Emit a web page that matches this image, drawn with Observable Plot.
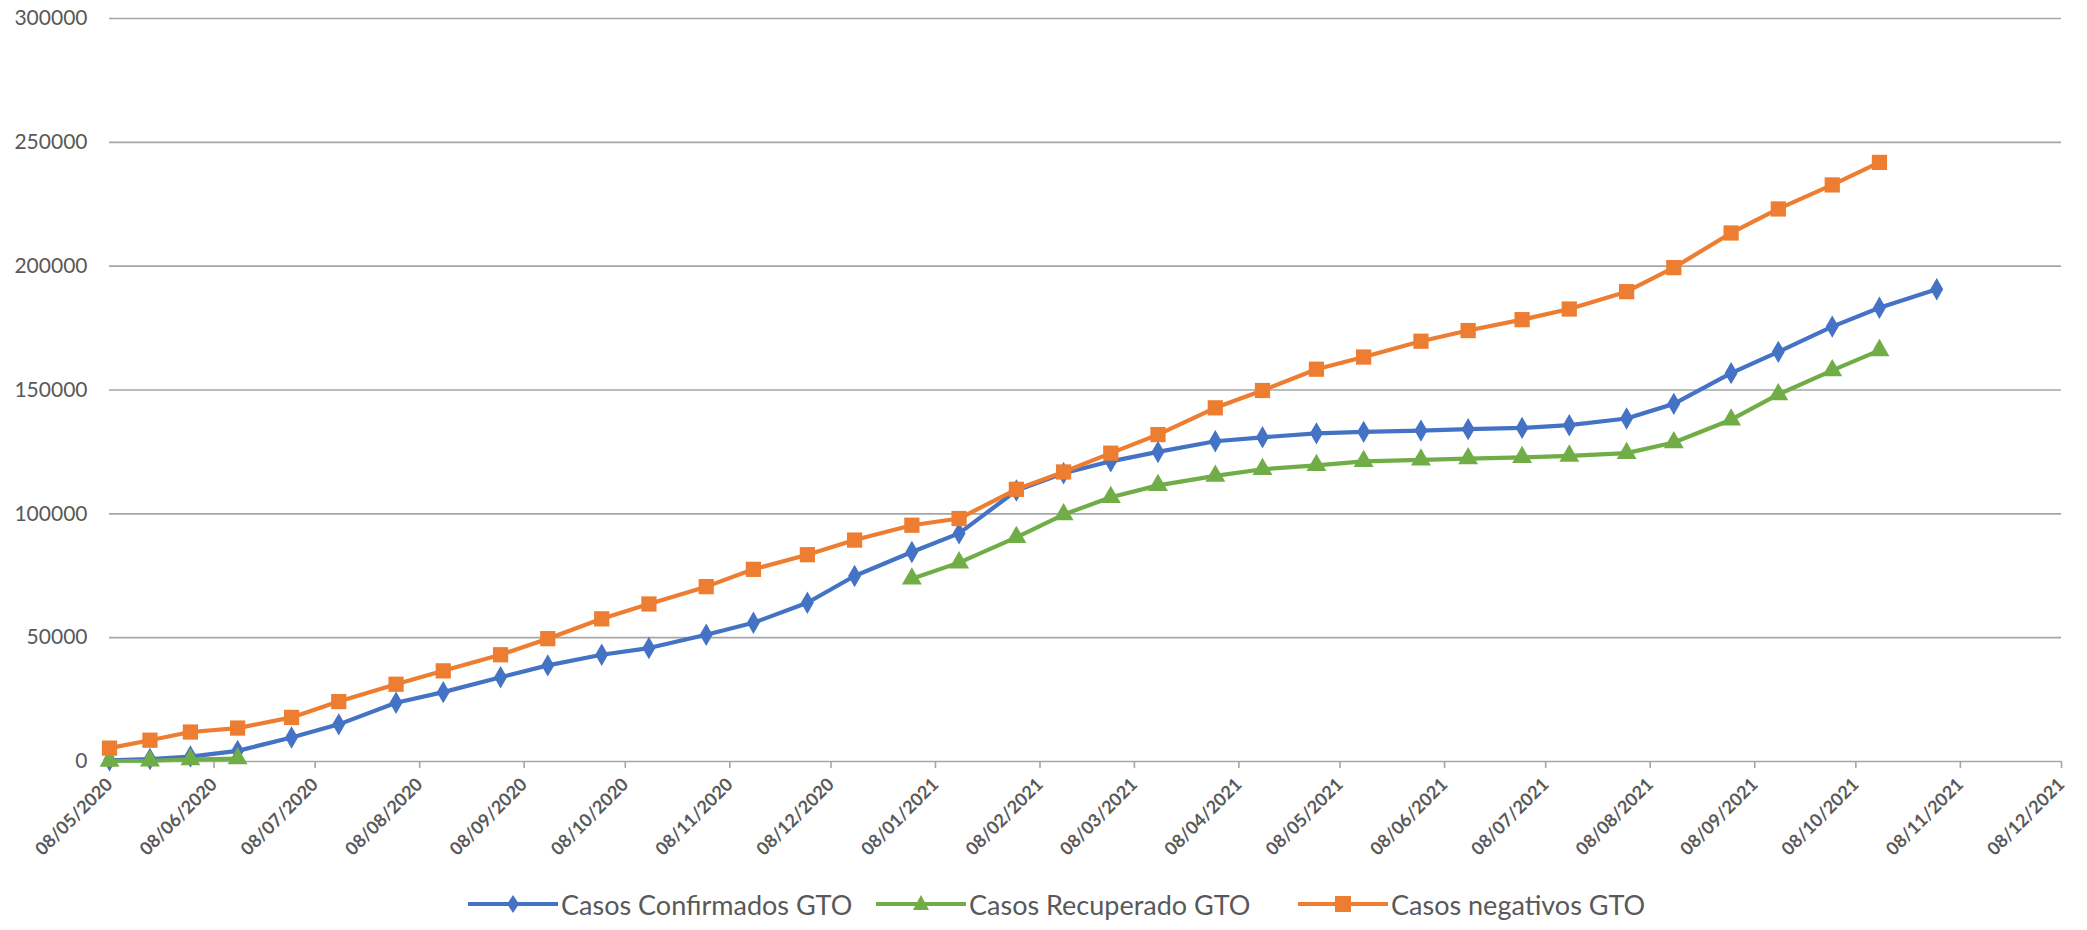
<!DOCTYPE html>
<html>
<head>
<meta charset="utf-8">
<script src="https://cdn.jsdelivr.net/npm/d3@7"></script>
<script src="https://cdn.jsdelivr.net/npm/@observablehq/plot@0.6"></script>
<style>
  html, body { margin: 0; padding: 0; background: #fff; }
  body { width: 2087px; height: 930px; position: relative; overflow: hidden; font-family: Lato, "Open Sans", sans-serif; }
  #chart svg { display: block; }
  #legend { position: absolute; left: 0; top: 878px; width: 2087px; height: 52px; }
  .item { position: absolute; top: 0; height: 52px; display: flex; align-items: center; font-size: 27px; color: #595959; white-space: nowrap; }
  .item svg { margin-right: 3px; }
</style>
</head>
<body>
<div id="chart"></div>
<div id="legend"></div>
<script>
// ---- data ----
const dates = [
  "2020-05-08","2020-05-20","2020-06-01","2020-06-15","2020-07-01","2020-07-15",
  "2020-08-01","2020-08-15","2020-09-01","2020-09-15","2020-10-01","2020-10-15",
  "2020-11-01","2020-11-15","2020-12-01","2020-12-15","2021-01-01","2021-01-15",
  "2021-02-01","2021-02-15","2021-03-01","2021-03-15","2021-04-01","2021-04-15",
  "2021-05-01","2021-05-15","2021-06-01","2021-06-15","2021-07-01","2021-07-15",
  "2021-08-01","2021-08-15","2021-09-01","2021-09-15","2021-10-01","2021-10-15",
  "2021-11-01"
];
const confirmados = [
  500, 1000, 2000, 4300, 9700, 15000,
  23700, 28000, 34000, 38800, 43100, 45800,
  51200, 56000, 64100, 74900, 84600, 92100,
  109400, 116400, 121200, 125000, 129300, 130900,
  132500, 133100, 133600, 134200, 134700, 135800,
  138500, 144400, 156800, 165400, 175600, 183200,
  190700
];
const recuperados = [
  200, 300, 800, 1200, null, null,
  null, null, null, null, null, null,
  null, null, null, null, 73800, 80300,
  90500, 99700, 106700, 111500, 115300, 118000,
  119600, 121200, 121800, 122300, 122800, 123400,
  124500, 128800, 138000, 148200, 157900, 166000,
  null
];
const negativos = [
  5400, 8600, 11900, 13500, 17800, 24200,
  31200, 36600, 43100, 49600, 57600, 63600,
  70600, 77600, 83500, 89400, 95400, 98100,
  109900, 116900, 124500, 132000, 142800, 149800,
  158400, 163300, 169700, 174000, 178400, 182700,
  189700, 199400, 213400, 223100, 232800, 241900,
  null
];
const seriesNames = ["Casos Confirmados GTO", "Casos Recuperado GTO", "Casos negativos GTO"];
const seriesColors = ["#4472C4", "#70AD47", "#ED7D31"];
const seriesSymbols = ["diamond", "triangle", "square"];
const xTickLabels = [
  "08/05/2020","08/06/2020","08/07/2020","08/08/2020","08/09/2020","08/10/2020",
  "08/11/2020","08/12/2020","08/01/2021","08/02/2021","08/03/2021","08/04/2021",
  "08/05/2021","08/06/2021","08/07/2021","08/08/2021","08/09/2021","08/10/2021",
  "08/11/2021","08/12/2021"
];
const yTicks = [0, 50000, 100000, 150000, 200000, 250000, 300000];

// ---- build ----
const parseDMY = d3.utcParse("%d/%m/%Y");
const fmtDMY = d3.utcFormat("%d/%m/%Y");
const tickDates = xTickLabels.map(parseDMY);
const parsedDates = dates.map(d3.utcParse("%Y-%m-%d"));
const allSeries = [confirmados, recuperados, negativos];
const tables = allSeries.map((vals, i) =>
  parsedDates.map((d, j) => ({date: d, value: vals[j], series: seriesNames[i]}))
);

const marks = [
  Plot.gridY(yTicks, {stroke: "#a6a6a6", strokeOpacity: 1, strokeWidth: 1.6}),
  Plot.axisY(yTicks, {label: null, tickSize: 0, tickPadding: 22, tickFormat: d => String(d), fontSize: 21, fill: "#595959", fontFamily: "Lato"}),
  Plot.axisX(tickDates, {label: null, tickSize: 7, tickPadding: 13, tickRotate: -45, tickFormat: fmtDMY, fontSize: 18, fontWeight: "bold", fill: "#595959", stroke: "#a6a6a6", strokeWidth: 1.6, fontFamily: "Lato"})
];
const sizes = [6.8, 7.4, 8.6];
tables.forEach((t, i) => {
  marks.push(Plot.line(t, {x: "date", y: "value", stroke: seriesColors[i], strokeWidth: 4.2}));
});
tables.forEach((t, i) => {
  marks.push(Plot.dot(t.filter(d => d.value != null), {x: "date", y: "value", fill: seriesColors[i], symbol: seriesSymbols[i], r: sizes[i], stroke: "none"}));
});

const chart = Plot.plot({
  width: 2087,
  height: 878,
  marginTop: 18,
  marginBottom: 117,
  marginLeft: 109,
  marginRight: 26,
  style: {fontFamily: "Lato", background: "#fff"},
  x: {type: "utc", domain: [tickDates[0], tickDates[tickDates.length - 1]], axis: null},
  y: {domain: [0, 300000], axis: null},
  marks
});
document.getElementById("chart").appendChild(chart);

// ---- legend ----
const legend = document.getElementById("legend");
const lefts = [468, 876, 1298];
seriesNames.forEach((name, i) => {
  const item = document.createElement("div");
  item.className = "item";
  item.style.left = lefts[i] + "px";
  const c = seriesColors[i];
  let sym = "";
  if (i === 0) sym = `<path d="M45,3 L51,12 L45,21 L39,12 Z" fill="${c}"/>`;
  if (i === 1) sym = `<path d="M45,3 L53,18 L37,18 Z" fill="${c}"/>`;
  if (i === 2) sym = `<rect x="37" y="4" width="16" height="16" fill="${c}"/>`;
  item.innerHTML = `<svg width="90" height="24"><line x1="0" y1="12" x2="90" y2="12" stroke="${c}" stroke-width="4"/>${sym}</svg><span>${name}</span>`;
  legend.appendChild(item);
});
</script>
</body>
</html>
